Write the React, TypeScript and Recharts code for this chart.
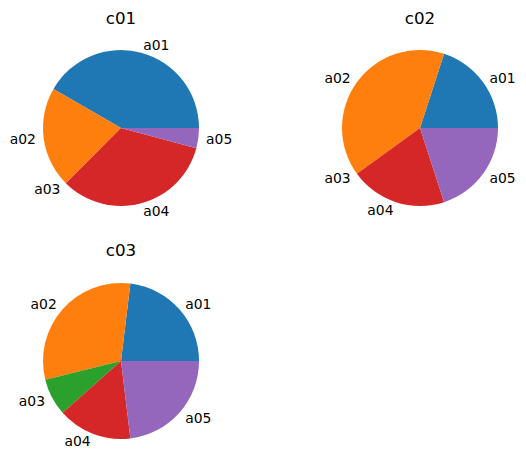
import { PieChart, Pie, Cell } from 'recharts';

const categories = ['a01', 'a02', 'a03', 'a04', 'a05'];
const c01Values = [10, 5, 0, 8, 1];
const c02Values = [1, 2, 0, 1, 1];
const c03Values = [3, 4, 1, 2, 3];

const COLORS = ['#1f77b4', '#ff7f0e', '#2ca02c', '#d62728', '#9467bd'];
const FONT = '"DejaVu Sans", sans-serif';
const RADIAN = Math.PI / 180;

const toRows = (values: number[]) =>
  categories.map((name, i) => ({ name, value: values[i] }));

const renderLabel = ({ cx, cy, midAngle, outerRadius, name }: any) => {
  const r = outerRadius * 1.1;
  const cos = Math.cos(-midAngle * RADIAN);
  const x = cx + r * cos;
  const y = cy + r * Math.sin(-midAngle * RADIAN);
  return (
    <text
      x={x}
      y={y}
      fill="#000"
      fontSize={13.9}
      fontFamily={FONT}
      textAnchor={cos > 0.0001 ? 'start' : cos < -0.0001 ? 'end' : 'middle'}
      dominantBaseline="central"
    >
      {name}
    </text>
  );
};

const PiePanel = ({ title, values, left, top, width, height, cx, cy, titleTop }: any) => {
  const data = toRows(values);
  return (
    <div style={{ position: 'absolute', left, top, width, height }}>
      <PieChart width={width} height={height} margin={{ top: 0, right: 0, bottom: 0, left: 0 }}>
        <Pie
          data={data}
          dataKey="value"
          nameKey="name"
          cx={cx}
          cy={cy}
          outerRadius={78}
          startAngle={0}
          endAngle={360}
          stroke="none"
          label={renderLabel}
          labelLine={false}
          isAnimationActive={false}
        >
          {data.map((entry, index) => (
            <Cell key={`cell-${index}`} fill={COLORS[index]} />
          ))}
        </Pie>
      </PieChart>
      <div
        style={{
          position: 'absolute',
          left: cx - 50,
          top: titleTop,
          width: 100,
          textAlign: 'center',
          fontFamily: FONT,
          fontSize: 16.7,
          lineHeight: '20px',
          color: '#000',
        }}
      >
        {title}
      </div>
    </div>
  );
};

export default function App() {
  return (
    <div
      style={{
        position: 'absolute',
        left: 0,
        top: 0,
        width: 526,
        height: 469,
        background: '#fff',
      }}
    >
      <PiePanel title="c01" values={c01Values} left={0} top={0} width={263} height={232} cx={121} cy={128} titleTop={8} />
      <PiePanel title="c02" values={c02Values} left={263} top={0} width={263} height={232} cx={157} cy={128} titleTop={8} />
      <PiePanel title="c03" values={c03Values} left={0} top={232} width={263} height={237} cx={121} cy={129} titleTop={8} />
    </div>
  );
}
